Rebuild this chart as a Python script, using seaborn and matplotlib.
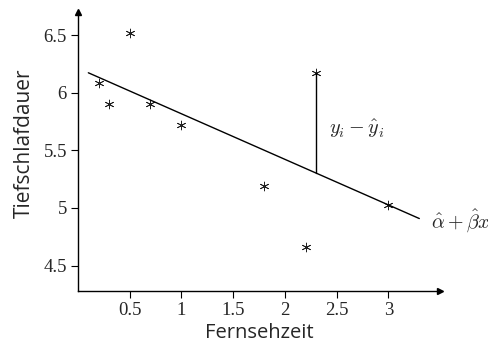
import numpy as np
import pandas as pd
import matplotlib
matplotlib.use("Agg")
import matplotlib.pyplot as plt
import seaborn as sns

# data
fernsehzeit = [0.2, 0.3, 0.5, 0.7, 1.0, 1.8, 2.2, 2.3, 3.0]
tiefschlaf = [6.08, 5.90, 6.52, 5.90, 5.72, 5.19, 4.66, 6.17, 5.03]
x_ticks = [0.5, 1, 1.5, 2, 2.5, 3]
x_ticklabels = ["0.5", "1", "1.5", "2", "2.5", "3"]
y_ticks = [4.5, 5, 5.5, 6, 6.5]
y_ticklabels = ["4.5", "5", "5.5", "6", "6.5"]
line_span = [0.1, 3.3]
residual_index = 7

sns.set_theme(style="white")
plt.rcParams["mathtext.fontset"] = "cm"

df = pd.DataFrame({"Fernsehzeit": fernsehzeit, "Tiefschlafdauer": tiefschlaf})

fig = plt.figure(figsize=(4.89, 3.45), dpi=100)
ax = fig.add_axes([78 / 489, 1 - 291 / 345, (440 - 78) / 489, (291 - 12) / 345])

# regression line
beta, alpha = np.polyfit(df["Fernsehzeit"], df["Tiefschlafdauer"], 1)
lx = np.array(line_span)
sns.lineplot(x=lx, y=alpha + beta * lx, ax=ax, color="black", linewidth=1.0)

# residual segment
xr = fernsehzeit[residual_index]
yr = tiefschlaf[residual_index]
ax.plot([xr, xr], [alpha + beta * xr, yr], color="black", linewidth=1.0)

sns.scatterplot(data=df, x="Fernsehzeit", y="Tiefschlafdauer", ax=ax,
                marker=(6, 2, 0), s=40, color="#222222", linewidth=0.6)

ax.set_xlim(0, 3.5)
ax.set_ylim(4.28, 6.7)
ax.set_xticks(x_ticks)
ax.set_xticklabels(x_ticklabels, family="Liberation Serif", fontsize=13.5)
ax.set_yticks(y_ticks)
ax.set_yticklabels(y_ticklabels, family="Liberation Serif", fontsize=13.5)
ax.tick_params(axis="both", direction="out", length=5, width=0.8, color="black",
               bottom=True, left=True, pad=3)

for s in ["top", "right"]:
    ax.spines[s].set_visible(False)
for s in ["left", "bottom"]:
    ax.spines[s].set_color("black")
    ax.spines[s].set_linewidth(1.0)

# axis arrows
ax.plot(1, 0, ">", transform=ax.transAxes, color="black", markersize=4, clip_on=False)
ax.plot(0, 1, "^", transform=ax.transAxes, color="black", markersize=4, clip_on=False)

ax.set_xlabel("Fernsehzeit", family="Open Sans", fontsize=14.5, labelpad=3)
ax.set_ylabel("Tiefschlafdauer", family="Open Sans", fontsize=15)
ax.yaxis.set_label_coords(-0.12, 0.53)

ax.text(2.43, 5.69, r"$y_i - \hat{y}_i$", fontsize=14.5, va="center", ha="left")
ax.text(3.41, 4.88, r"$\hat{\alpha} + \hat{\beta}x$", fontsize=14.5, va="center", ha="left",
        clip_on=False)

fig.savefig("out.png", dpi=100)
